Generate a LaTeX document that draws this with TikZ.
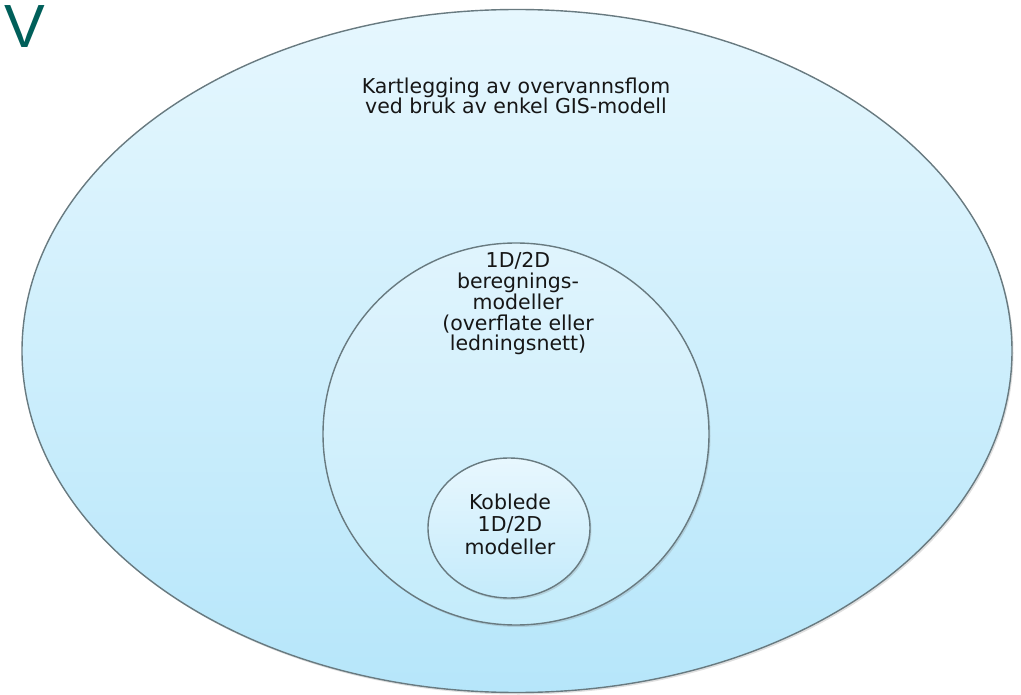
\documentclass[tikz,border=0pt]{standalone}
\usepackage{fontspec}
\setmainfont{DejaVu Sans}
\newfontfamily\vfont{Liberation Sans}
\usetikzlibrary{shapes.geometric,shadows}
\definecolor{txt}{HTML}{161616}
\definecolor{edge}{HTML}{687A80}
\definecolor{teal}{HTML}{005F5A}
\tikzset{
  bubble/.style={ellipse, inner sep=0pt, draw=edge, line width=1.4pt,
    drop shadow={opacity=0.25, shadow xshift=1.5pt, shadow yshift=-2pt}},
  lbl/.style={align=center, text=txt, inner sep=0pt, anchor=base}
}
\begin{document}
\begin{tikzpicture}[x=1pt,y=-1pt]
\useasboundingbox (0,0) rectangle (1021,695);
\node[bubble, minimum width=990pt, minimum height=683pt,
  top color={rgb,255:red,230;green,247;blue,254}, bottom color={rgb,255:red,182;green,230;blue,250}]
  (outer) at (517,351) {};
\node[bubble, minimum width=386pt, minimum height=382pt,
  top color={rgb,255:red,224;green,244;blue,253}, bottom color={rgb,255:red,196;green,236;blue,251}]
  (mid) at (516,434) {};
\node[bubble, minimum width=162pt, minimum height=140pt,
  top color={rgb,255:red,232;green,247;blue,254}, bottom color={rgb,255:red,196;green,235;blue,251}]
  (inner) at (509,528) {};
\node[lbl, font=\fontsize{20.5}{20}\selectfont] (t1) at (516,114) {Kartlegging av overvannsflom\\ved bruk av enkel GIS-modell};
\node[lbl, font=\fontsize{20.5}{20.8}\selectfont] (t2) at (518,351) {1D/2D\\beregnings-\\modeller\\(overflate eller\\ledningsnett)};
\node[lbl, font=\fontsize{20.5}{22.5}\selectfont] (t3) at (510,554) {Koblede\\1D/2D\\modeller};
\node[text=teal, inner sep=0pt, anchor=base west, font=\vfont\fontsize{61}{61}\selectfont] (v) at (4,48) {V};
\end{tikzpicture}
\end{document}
